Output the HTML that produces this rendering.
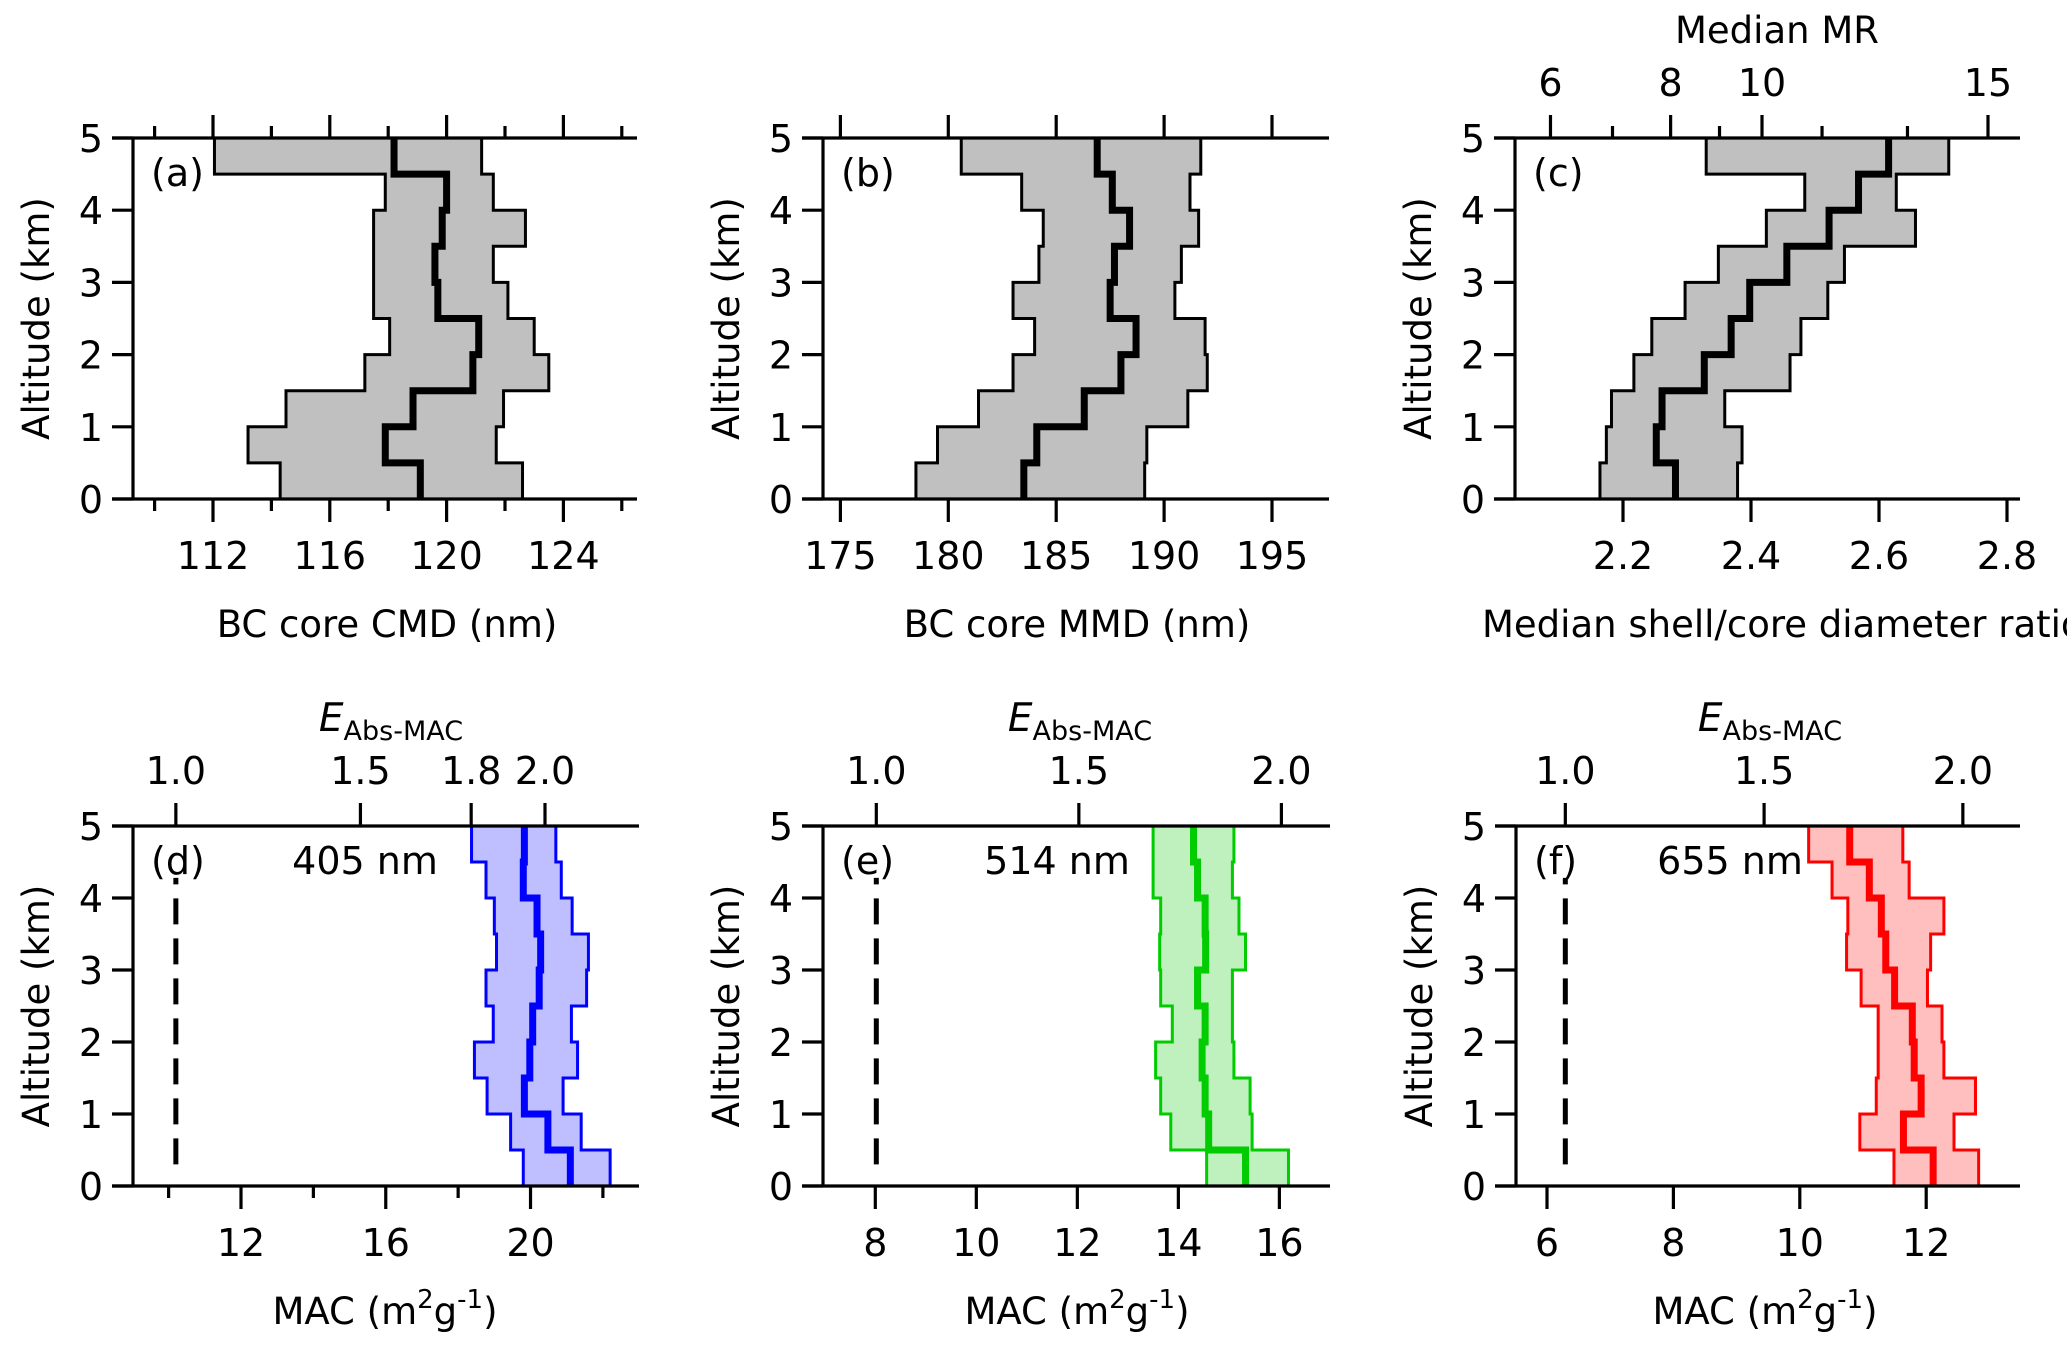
<!DOCTYPE html>
<html><head><meta charset="utf-8"><style>
html,body{margin:0;padding:0;background:#fff;}
svg{display:block;}
text{font-family:"DejaVu Sans","Liberation Sans",sans-serif;fill:#000;}
</style></head><body>
<svg id="fig" width="2067" height="1347" viewBox="0 0 2067 1347" xmlns="http://www.w3.org/2000/svg"></svg>
<script>
// Altitude bins (km), lower edges 0..4.5, each 0.5 km thick
const altEdges = [0,0.5,1,1.5,2,2.5,3,3.5,4,4.5,5];
// (a) BC core CMD (nm)
const cmdLow  = [114.3,113.2,114.5,117.2,118.05,117.5,117.5,117.5,117.9,112.05];
const cmdMed  = [119.1,117.9,118.85,120.9,121.1,119.7,119.6,119.85,120.0,118.2];
const cmdHigh = [122.6,121.7,121.95,123.5,123.0,122.1,121.6,122.7,121.6,121.2];
// (b) BC core MMD (nm)
const mmdLow  = [178.5,179.5,181.4,183.0,184.0,183.0,184.2,184.4,183.4,180.6];
const mmdMed  = [183.5,184.1,186.3,188.0,188.7,187.5,187.7,188.4,187.6,186.9];
const mmdHigh = [189.1,189.2,191.1,192.0,191.9,190.5,190.8,191.6,191.2,191.7];
// (c) shell/core diameter ratio
const ratioLow  = [2.164,2.174,2.182,2.217,2.245,2.297,2.349,2.424,2.484,2.330];
const ratioMed  = [2.282,2.252,2.261,2.327,2.369,2.398,2.456,2.522,2.568,2.615];
const ratioHigh = [2.379,2.386,2.359,2.461,2.478,2.520,2.546,2.657,2.627,2.709];
// (d) MAC 405 nm
const mac405Low  = [19.8,19.45,18.8,18.45,18.97,18.77,19.06,19.0,18.77,18.37];
const mac405Med  = [21.1,20.48,19.83,19.98,20.06,20.24,20.28,20.18,19.8,19.83];
const mac405High = [22.2,21.4,20.9,21.3,21.13,21.55,21.6,21.15,20.85,20.7];
// (e) MAC 514 nm
const mac514Low  = [14.56,13.85,13.65,13.55,13.88,13.65,13.63,13.65,13.5,13.5];
const mac514Med  = [15.33,14.6,14.53,14.47,14.53,14.38,14.54,14.53,14.38,14.3];
const mac514High = [16.18,15.46,15.42,15.1,15.07,15.07,15.33,15.2,15.07,15.1];
// (f) MAC 655 nm
const mac655Low  = [11.49,10.95,11.21,11.24,11.24,10.97,10.74,10.76,10.51,10.14];
const mac655Med  = [12.11,11.64,11.92,11.81,11.78,11.5,11.36,11.29,11.1,10.79];
const mac655High = [12.83,12.44,12.78,12.28,12.25,12.02,12.07,12.28,11.73,11.63];
// Uncoated MAC reference (E = 1) per wavelength
const macRef = [10.2, 8.02, 6.29];
// Tick labels
const altTicks = [0,1,2,3,4,5];
const cmdMajor = [112,116,120,124], cmdMinor = [110,114,118,122,126];
const mmdMajor = [175,180,185,190,195];
const ratioMajor = [2.2,2.4,2.6,2.8];
const mrLabels = ["6","8","10","15"];
const mrAtRatio = [2.0867,2.2744,2.4172,2.7703];
const mrMinorAtRatio = [2.1836,2.3508,2.511,2.6445];
const macMajorD = [12,16,20], macMinorD = [10,14,18,22];
const macMajorE = [8,10,12,14,16];
const macMajorF = [6,8,10,12];
const eTicksD = [1.0,1.5,1.8,2.0];
const eTicksEF = [1.0,1.5,2.0];

const NS = "http://www.w3.org/2000/svg";
const svg = document.getElementById('fig');
function mk(tag, attrs, parent){
  const e = document.createElementNS(NS, tag);
  for (const k in attrs) e.setAttribute(k, attrs[k]);
  (parent||svg).appendChild(e);
  return e;
}
function txt(str, x, y, size, anchor, parent){
  const t = mk('text', {x:x, y:y, 'font-size':size, 'text-anchor':anchor||'middle'}, parent);
  t.textContent = str;
  return t;
}
function stepPath(vals, X, Y){
  let d = '';
  for (let i=0;i<vals.length;i++){
    const x = X(vals[i]);
    d += (i===0 ? 'M' : 'L') + x + ',' + Y(altEdges[i]) + 'L' + x + ',' + Y(altEdges[i+1]);
  }
  return d;
}
function bandPath(lo, hi, X, Y){
  let d = '';
  for (let i=0;i<lo.length;i++){
    d += (i===0?'M':'L') + X(lo[i]) + ',' + Y(altEdges[i]) + 'L' + X(lo[i]) + ',' + Y(altEdges[i+1]);
  }
  for (let i=hi.length-1;i>=0;i--){
    d += 'L' + X(hi[i]) + ',' + Y(altEdges[i+1]) + 'L' + X(hi[i]) + ',' + Y(altEdges[i]);
  }
  return d + 'Z';
}

function panel(cfg){
  const g = mk('g', {});
  
  
  const X = v => cfg.refPx + (v - cfg.refV) * cfg.ppu;
  const Y = a => cfg.y0 - a * cfg.ppk;
  const yTop = Y(5), yBot = Y(0);
  const band = mk('path', {d: bandPath(cfg.lo, cfg.hi, X, Y), fill: cfg.fill, stroke: 'none'}, g);
  
  
  const lo = mk('path', {d: stepPath(cfg.lo, X, Y), fill:'none', stroke: cfg.line, 'stroke-width':3}, g);
  
  
  const hi = mk('path', {d: stepPath(cfg.hi, X, Y), fill:'none', stroke: cfg.line, 'stroke-width':3}, g);
  
  
  const md = mk('path', {d: stepPath(cfg.med, X, Y), fill:'none', stroke: cfg.line, 'stroke-width':7}, g);
  
  
  if (cfg.ref !== undefined){
    const rl = mk('line', {x1:X(cfg.ref), x2:X(cfg.ref), y1:Y(0.3), y2:Y(4.28), stroke:'#000', 'stroke-width':5, 'stroke-dasharray':'26,14'}, g);
    
    
  }
  const ax = mk('g', {stroke:'#000', 'stroke-width':3.2, fill:'none'}, g);
  
  
  mk('line', {x1:cfg.axisX-21, x2:cfg.right, y1:yBot, y2:yBot}, ax);
  mk('line', {x1:cfg.axisX-21, x2:cfg.right, y1:yTop, y2:yTop}, ax);
  mk('line', {x1:cfg.axisX, x2:cfg.axisX, y1:yTop, y2:yBot}, ax);
  altTicks.forEach(a => {
    mk('line', {x1:cfg.axisX-21, x2:cfg.axisX, y1:Y(a), y2:Y(a)}, ax);
    const t = txt(String(a), cfg.axisX-30, Y(a)+14, 38, 'end', g);
    
    
  });
  cfg.major.forEach((v,i) => {
    mk('line', {x1:X(v), x2:X(v), y1:yBot, y2:yBot+23}, ax);
    if (cfg.mirrorTop) mk('line', {x1:X(v), x2:X(v), y1:yTop, y2:yTop-23}, ax);
    const t = txt(cfg.majorLabels ? cfg.majorLabels[i] : String(v), X(v), yBot+70, 38, 'middle', g);
    
    
  });
  (cfg.minor||[]).forEach(v => {
    mk('line', {x1:X(v), x2:X(v), y1:yBot, y2:yBot+12}, ax);
    if (cfg.mirrorTop) mk('line', {x1:X(v), x2:X(v), y1:yTop, y2:yTop-12}, ax);
  });
  if (cfg.topTicks){
    cfg.topTicks.forEach((v,i) => {
      mk('line', {x1:X(v), x2:X(v), y1:yTop, y2:yTop-23}, ax);
      const t = txt(cfg.topLabels[i], X(v), yTop-42, 38, 'middle', g);
      
      
    });
    (cfg.topMinor||[]).forEach(v => mk('line', {x1:X(v), x2:X(v), y1:yTop, y2:yTop-12}, ax));
  }
  const yt = mk('text', {x:0, y:0, 'font-size':37, 'text-anchor':'middle', transform:'translate('+(cfg.axisX-84)+','+((yTop+yBot)/2)+') rotate(-90)'}, g);
  yt.textContent = 'Altitude (km)';
  
  
  const xt = txt(cfg.xTitle, cfg.xTitleX, yBot+138, 37, cfg.xTitleAnchor||'middle', g);
  
  
  if (cfg.xTitleSup){
    xt.textContent = '';
    const parts = [['MAC (m',0,0],['2',1,-16],['g',0,16],['-1',1,-16],[')',0,16]];
    parts.forEach(p => {
      const s = mk('tspan', {'font-size': p[1]?26:37, dy: p[2]}, xt);
      s.textContent = p[0];
    });
  }
  if (cfg.topTitle){
    const tt = txt('', cfg.topTitleX, yTop-95, 37, 'middle', g);
    
    
    if (cfg.topTitle === 'E'){
      const s1 = mk('tspan', {'font-style':'italic','font-size':39}, tt); s1.textContent = 'E';
      const s2 = mk('tspan', {'font-size':27, dy:9}, tt); s2.textContent = 'Abs-MAC';
    } else tt.textContent = cfg.topTitle;
  }
  const pl = txt(cfg.label, cfg.axisX+18, yTop+48, 38, 'start', g);
  
  
  if (cfg.wl){
    const w = txt(cfg.wl, cfg.wlX, yTop+48, 38, 'middle', g);
    
    
  }
}

const TOP = {y0:499, ppk:72.2}, BOT = {y0:1186, ppk:72.0};
panel(Object.assign({name:'panel-a-cmd', axisX:133, right:637, refV:112, refPx:213, ppu:29.2,
  lo:cmdLow, med:cmdMed, hi:cmdHigh, fill:'#c0c0c0', line:'#000', major:cmdMajor, minor:cmdMinor, mirrorTop:true,
  xTitle:'BC core CMD (nm)', xTitleX:387, label:'(a)'}, TOP));
panel(Object.assign({name:'panel-b-mmd', axisX:823, right:1329, refV:175, refPx:840.4, ppu:21.58,
  lo:mmdLow, med:mmdMed, hi:mmdHigh, fill:'#c0c0c0', line:'#000', major:mmdMajor, mirrorTop:true,
  xTitle:'BC core MMD (nm)', xTitleX:1077, label:'(b)'}, TOP));
panel(Object.assign({name:'panel-c-ratio', axisX:1515, right:2020, refV:2.2, refPx:1623, ppu:640,
  lo:ratioLow, med:ratioMed, hi:ratioHigh, fill:'#c0c0c0', line:'#000', major:ratioMajor,
  majorLabels:['2.2','2.4','2.6','2.8'], topTicks:mrAtRatio, topLabels:mrLabels, topMinor:mrMinorAtRatio,
  topTitle:'Median MR', topTitleX:1777,
  xTitle:'Median shell/core diameter ratio', xTitleX:1482, xTitleAnchor:'start', label:'(c)'}, TOP));
panel(Object.assign({name:'panel-d-mac405', axisX:133, right:639, refV:12, refPx:241, ppu:36.19,
  lo:mac405Low, med:mac405Med, hi:mac405High, fill:'rgba(0,0,255,0.25)', line:'#0000ff',
  major:macMajorD, minor:macMinorD, ref:macRef[0],
  topTicks:eTicksD.map(e=>e*macRef[0]), topLabels:eTicksD.map(e=>e.toFixed(1)), topTitle:'E', topTitleX:391,
  xTitle:'MAC', xTitleSup:true, xTitleX:385, label:'(d)', wl:'405 nm', wlX:365}, BOT));
panel(Object.assign({name:'panel-e-mac514', axisX:823, right:1330, refV:8, refPx:875.3, ppu:50.51,
  lo:mac514Low, med:mac514Med, hi:mac514High, fill:'rgba(0,200,0,0.25)', line:'#00cc00',
  major:macMajorE, ref:macRef[1],
  topTicks:eTicksEF.map(e=>e*macRef[1]), topLabels:eTicksEF.map(e=>e.toFixed(1)), topTitle:'E', topTitleX:1080,
  xTitle:'MAC', xTitleSup:true, xTitleX:1077, label:'(e)', wl:'514 nm', wlX:1057}, BOT));
panel(Object.assign({name:'panel-f-mac655', axisX:1516, right:2020, refV:6, refPx:1547, ppu:63.2,
  lo:mac655Low, med:mac655Med, hi:mac655High, fill:'rgba(255,0,0,0.25)', line:'#ff0000',
  major:macMajorF, ref:macRef[2],
  topTicks:eTicksEF.map(e=>e*macRef[2]), topLabels:eTicksEF.map(e=>e.toFixed(1)), topTitle:'E', topTitleX:1770,
  xTitle:'MAC', xTitleSup:true, xTitleX:1765, label:'(f)', wl:'655 nm', wlX:1730}, BOT));
</script>
</body></html>
